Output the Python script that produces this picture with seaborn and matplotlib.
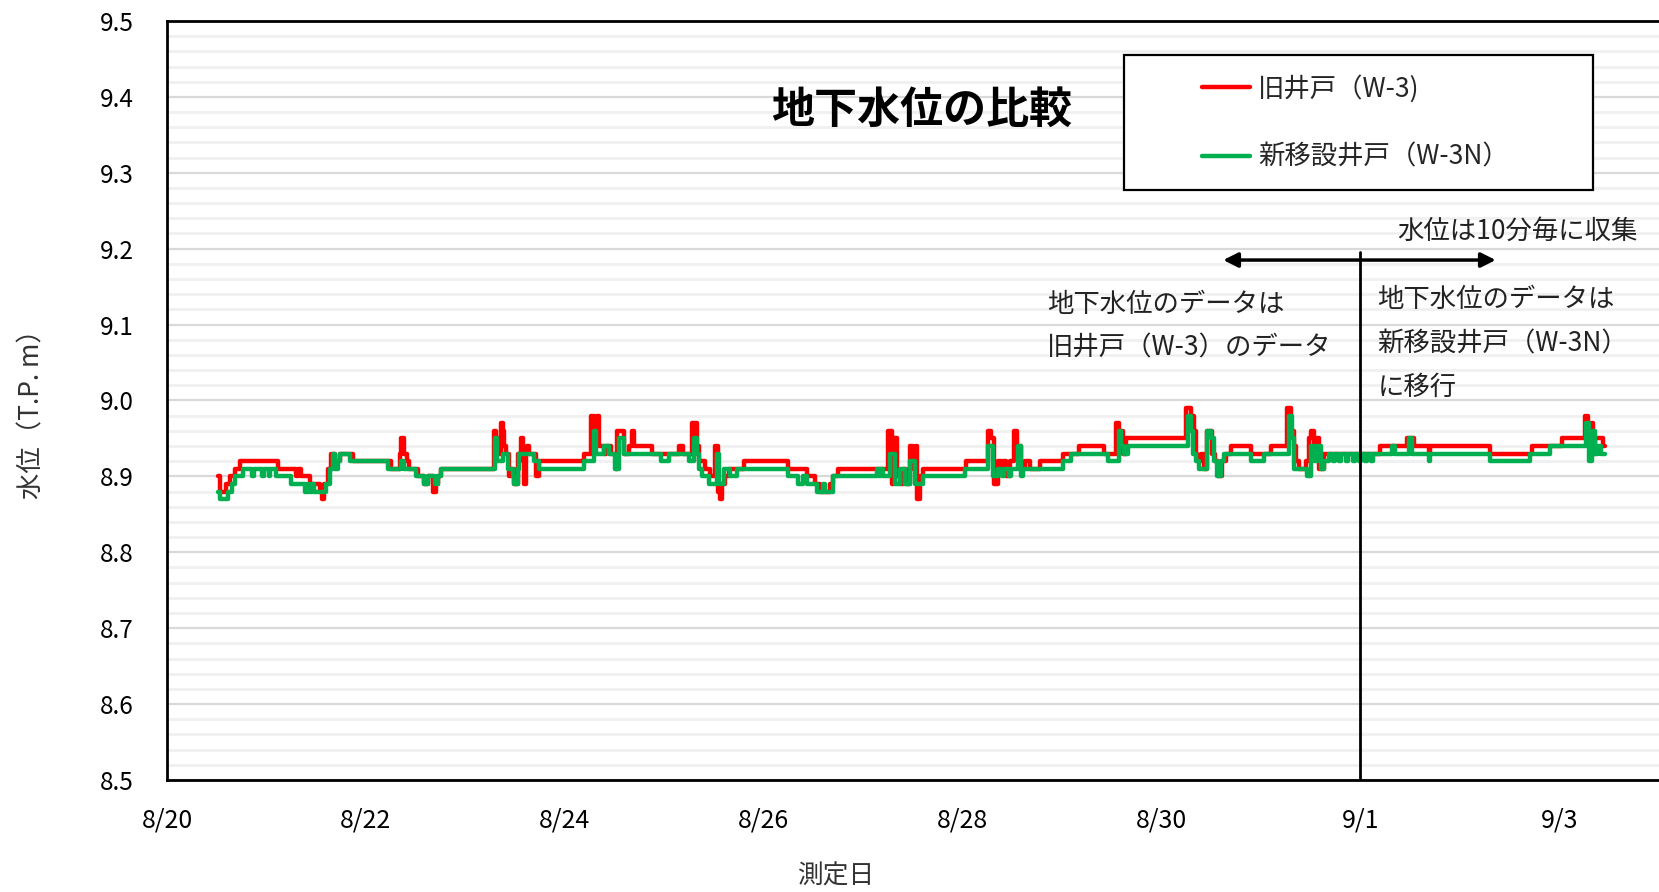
import matplotlib
matplotlib.use('Agg')
import matplotlib.pyplot as plt
from matplotlib.patches import Rectangle
import seaborn as sns
import pandas as pd
import numpy as np

# ---------------- data ----------------
start_date = '2021-08-20'

# old well W-3 : days since 8/20 00:00 and level (T.P. m)
red_days = [0.508, 0.535, 0.590, 0.632, 0.682, 0.732, 1.117, 1.301, 1.317, 1.350, 1.434, 1.540, 1.560, 1.580,
            1.618, 1.650, 1.685, 1.735, 1.869, 2.253, 2.340, 2.354, 2.380, 2.410, 2.437, 2.521, 2.588, 2.621,
            2.672, 2.705, 2.722, 2.755, 3.290, 3.307, 3.324, 3.357, 3.374, 3.390, 3.407, 3.441, 3.457, 3.491,
            3.524, 3.558, 3.575, 3.591, 3.610, 3.624, 3.641, 3.708, 3.741, 4.193, 4.260, 4.293, 4.327, 4.343,
            4.393, 4.410, 4.460, 4.510, 4.527, 4.594, 4.644, 4.678, 4.695, 4.878, 5.146, 5.190, 5.279, 5.300,
            5.313, 5.330, 5.346, 5.413, 5.463, 5.513, 5.540, 5.560, 5.580, 5.614, 5.647, 5.798, 6.248, 6.432,
            6.516, 6.566, 6.666, 6.700, 6.750, 7.251, 7.285, 7.302, 7.342, 7.368, 7.402, 7.435, 7.469, 7.502,
            7.529, 7.545, 7.569, 7.603, 8.037, 8.254, 8.288, 8.315, 8.355, 8.388, 8.405, 8.438, 8.472, 8.515,
            8.545, 8.589, 8.622, 8.672, 8.773, 9.007, 9.174, 9.425, 9.542, 9.575, 9.609, 9.642, 10.244, 10.294,
            10.328, 10.344, 10.361, 10.395, 10.428, 10.461, 10.512, 10.540, 10.570, 10.612, 10.645, 10.696,
            10.896, 11.097, 11.264, 11.297, 11.331, 11.348, 11.381, 11.448, 11.481, 11.498, 11.531, 11.565,
            11.581, 11.632, 12.199, 12.467, 12.534, 12.684, 12.701, 13.303, 13.721, 14.022, 14.256, 14.289,
            14.306, 14.323, 14.339, 14.356, 14.440, 14.456]
red_level = [8.90, 8.88, 8.89, 8.90, 8.91, 8.92, 8.91, 8.90, 8.91, 8.90, 8.89, 8.88, 8.87, 8.89,
             8.91, 8.93, 8.92, 8.93, 8.92, 8.91, 8.93, 8.95, 8.93, 8.92, 8.91, 8.90, 8.89, 8.90,
             8.88, 8.89, 8.90, 8.91, 8.96, 8.95, 8.93, 8.97, 8.96, 8.94, 8.93, 8.90, 8.91, 8.89,
             8.93, 8.95, 8.92, 8.89, 8.93, 8.94, 8.93, 8.90, 8.92, 8.93, 8.98, 8.95, 8.98, 8.94,
             8.93, 8.94, 8.93, 8.91, 8.96, 8.93, 8.94, 8.96, 8.94, 8.93, 8.94, 8.93, 8.97, 8.95,
             8.97, 8.94, 8.92, 8.91, 8.90, 8.94, 8.88, 8.87, 8.89, 8.90, 8.91, 8.92, 8.91, 8.90,
             8.89, 8.88, 8.89, 8.90, 8.91, 8.96, 8.89, 8.95, 8.90, 8.89, 8.91, 8.89, 8.94, 8.91,
             8.94, 8.87, 8.90, 8.91, 8.92, 8.96, 8.95, 8.89, 8.92, 8.91, 8.92, 8.90, 8.92, 8.96,
             8.94, 8.91, 8.92, 8.91, 8.92, 8.93, 8.94, 8.93, 8.97, 8.96, 8.93, 8.95, 8.99, 8.98,
             8.96, 8.93, 8.92, 8.93, 8.91, 8.96, 8.93, 8.92, 8.90, 8.92, 8.93, 8.94,
             8.93, 8.94, 8.99, 8.96, 8.94, 8.92, 8.91, 8.92, 8.95, 8.96, 8.94, 8.95,
             8.91, 8.93, 8.94, 8.95, 8.94, 8.93, 8.94, 8.93, 8.94, 8.95, 8.98, 8.97,
             8.93, 8.97, 8.93, 8.95, 8.94, 8.94]

# new well W-3N
green_days = [0.508, 0.531, 0.610, 0.650, 0.682, 0.766, 0.850, 0.870, 0.950, 0.970, 1.020, 1.040, 1.100, 1.250,
              1.384, 1.420, 1.440, 1.460, 1.480, 1.602, 1.640, 1.668, 1.690, 1.715, 1.735, 1.840, 2.220, 2.354,
              2.387, 2.500, 2.588, 2.621, 2.690, 2.722, 2.755, 3.300, 3.320, 3.374, 3.424, 3.474, 3.491, 3.524,
              3.541, 3.691, 3.741, 4.193, 4.293, 4.310, 4.393, 4.444, 4.505, 4.544, 4.594, 4.962, 5.045, 5.246,
              5.300, 5.330, 5.346, 5.380, 5.447, 5.525, 5.547, 5.597, 5.664, 5.731, 6.248, 6.349, 6.399, 6.432,
              6.533, 6.600, 6.620, 6.700, 7.134, 7.160, 7.180, 7.201, 7.268, 7.318, 7.368, 7.419, 7.469, 7.520,
              7.603, 8.020, 8.254, 8.305, 8.355, 8.400, 8.420, 8.470, 8.490, 8.555, 8.589, 8.605, 9.007, 9.091,
              9.459, 9.575, 9.592, 9.626, 9.659, 10.261, 10.294, 10.311, 10.344, 10.378, 10.461, 10.495, 10.528,
              10.562, 10.595, 10.629, 10.896, 11.030, 11.281, 11.314, 11.331, 11.465, 11.498, 11.531, 11.565,
              11.598, 11.632, 11.682, 11.720, 11.740, 11.780, 11.800, 11.850, 11.870, 11.920, 11.940, 11.990,
              12.010, 12.050, 12.070, 12.110, 12.130, 12.317, 12.350, 12.484, 12.517, 12.684, 12.701, 13.303,
              13.704, 13.905, 14.272, 14.300, 14.323, 14.356, 14.389, 14.423, 14.456]
green_level = [8.88, 8.87, 8.88, 8.89, 8.90, 8.91, 8.90, 8.91, 8.90, 8.91, 8.90, 8.91, 8.90, 8.89,
               8.88, 8.89, 8.88, 8.89, 8.88, 8.89, 8.91, 8.93, 8.91, 8.92, 8.93, 8.92, 8.91, 8.92,
               8.91, 8.90, 8.89, 8.90, 8.89, 8.90, 8.91, 8.95, 8.92, 8.93, 8.91, 8.90, 8.89, 8.91,
               8.93, 8.92, 8.91, 8.92, 8.96, 8.93, 8.94, 8.93, 8.91, 8.95, 8.93, 8.92, 8.93, 8.92,
               8.95, 8.93, 8.91, 8.90, 8.89, 8.93, 8.89, 8.91, 8.90, 8.91, 8.90, 8.89, 8.90, 8.89,
               8.88, 8.89, 8.88, 8.90, 8.91, 8.90, 8.91, 8.90, 8.93, 8.89, 8.91, 8.89, 8.92, 8.89,
               8.90, 8.91, 8.94, 8.90, 8.91, 8.90, 8.91, 8.90, 8.91, 8.94, 8.90, 8.91, 8.92, 8.93,
               8.92, 8.96, 8.94, 8.93, 8.94, 8.98, 8.96, 8.93, 8.92, 8.91, 8.96, 8.95, 8.92,
               8.90, 8.92, 8.93, 8.92, 8.93, 8.98, 8.95, 8.91, 8.90, 8.94, 8.92, 8.94,
               8.91, 8.92, 8.93, 8.92, 8.93, 8.92, 8.93, 8.92, 8.93, 8.92, 8.93, 8.92,
               8.93, 8.92, 8.93, 8.92, 8.93, 8.94, 8.93, 8.95, 8.93, 8.92, 8.93, 8.92,
               8.93, 8.94, 8.97, 8.92, 8.96, 8.93, 8.94, 8.93, 8.93]

series_names = ['旧井戸（W-3)', '新移設井戸（W-3N）']
series_colors = ['#FF0000', '#00B050']

tick_dates = ['2021-08-20', '2021-08-22', '2021-08-24', '2021-08-26', '2021-08-28',
              '2021-08-30', '2021-09-01', '2021-09-03']
tick_labels = ['8/20', '8/22', '8/24', '8/26', '8/28', '8/30', '9/1', '9/3']
y_ticks = [8.5, 8.6, 8.7, 8.8, 8.9, 9.0, 9.1, 9.2, 9.3, 9.4, 9.5]
switch_date = '2021-09-01'

title_text = '地下水位の比較'
x_label = '測定日'
y_label = '水位（T.P. m）'
note_left = '地下水位のデータは\n旧井戸（W-3）のデータ'
note_right = '地下水位のデータは\n新移設井戸（W-3N）\nに移行'
note_top = '水位は10分毎に収集'

# ---------------- build table ----------------
t0 = pd.Timestamp(start_date)
df = pd.concat([
    pd.DataFrame({'time': t0 + pd.to_timedelta(red_days, unit='D'), 'level': red_level, 'well': series_names[0]}),
    pd.DataFrame({'time': t0 + pd.to_timedelta(green_days, unit='D'), 'level': green_level, 'well': series_names[1]}),
], ignore_index=True)

sns.set_theme(style='white')
plt.rcParams['font.family'] = ['Noto Sans CJK JP', 'DejaVu Sans']

fig = plt.figure(figsize=(16.59, 8.92), dpi=100)
ax = fig.add_axes([0.1007, 0.1256, 0.8992, 0.8509])

for name, color in zip(series_names, series_colors):
    sns.lineplot(data=df[df['well'] == name], x='time', y='level', ax=ax, color=color,
                 linewidth=3.2, drawstyle='steps-post', estimator=None, sort=False,
                 label=name, legend=False, zorder=3)

ax.set_xlim(t0, t0 + pd.Timedelta(days=15))
ax.set_ylim(8.5, 9.5)
ax.set_yticks(y_ticks)
ax.set_yticklabels([f'{v:.1f}' for v in y_ticks])
ax.set_yticks(np.arange(8.5, 9.5001, 0.02), minor=True)
ax.set_xticks(pd.to_datetime(tick_dates))
ax.set_xticklabels(tick_labels)

ax.grid(which='minor', axis='y', color='#f0f0f0', linewidth=2.0, zorder=0)
ax.grid(which='major', axis='y', color='#d9d9d9', linewidth=1.6, zorder=0)
ax.grid(which='both', axis='x', visible=False)
ax.set_axisbelow(True)

ax.tick_params(axis='y', which='both', length=0, pad=24, labelsize=17.5, labelcolor='black')
ax.tick_params(axis='x', which='major', direction='in', length=8, width=1.6, color='black',
               pad=20, labelsize=18, labelcolor='black')
ax.tick_params(axis='x', which='minor', length=0)

for s in ['left', 'bottom', 'top']:
    ax.spines[s].set_visible(True)
    ax.spines[s].set_color('black')
    ax.spines[s].set_linewidth(2.0)
ax.spines['right'].set_visible(False)

ax.set_xlabel(x_label, fontsize=18.5, color='#333333', va='center')
ax.xaxis.set_label_coords(0.448, -0.127)
ax.set_ylabel(y_label, fontsize=19, color='#333333', va='center')
ax.yaxis.set_label_coords(-0.0903, 0.49)

# title inside plot
ax.text(0.506, 0.883, title_text, transform=ax.transAxes, ha='center', va='center',
        fontsize=31, fontweight='bold', color='black', zorder=6)

# legend box
ax.add_patch(Rectangle((0.6415, 0.777), 0.3145, 0.178, transform=ax.transAxes,
                       facecolor='white', edgecolor='black', linewidth=1.6, zorder=5))
leg = ax.legend(handles=ax.lines[:2], labels=series_names, loc='upper left',
                bbox_to_anchor=(0.694, 0.929), frameon=False, fontsize=19,
                handlelength=1.8, handletextpad=0.3, labelspacing=1.56,
                borderpad=0, borderaxespad=0)
leg.set_zorder(6)

# switch line and arrow
sw = pd.Timestamp(switch_date)
ax.axvline(sw, ymin=0, ymax=0.696, color='black', linewidth=2.0, zorder=4)
ax.annotate('', xy=(t0 + pd.Timedelta(days=10.62), 9.185), xytext=(t0 + pd.Timedelta(days=13.36), 9.185),
            arrowprops=dict(arrowstyle='<|-|>', color='black', lw=2.5, mutation_scale=22,
                            shrinkA=0, shrinkB=0), zorder=4)

ax.text(t0 + pd.Timedelta(days=8.85), 9.098, note_left, ha='left', va='center', fontsize=19,
        color='#222222', linespacing=1.8, zorder=4)
ax.text(t0 + pd.Timedelta(days=12.17), 9.075, note_right, ha='left', va='center', fontsize=19,
        color='#222222', linespacing=1.8, zorder=4)
ax.text(t0 + pd.Timedelta(days=12.37), 9.223, note_top, ha='left', va='center', fontsize=19,
        color='#222222', zorder=4)

fig.savefig('out.png', dpi=100, facecolor='white')
